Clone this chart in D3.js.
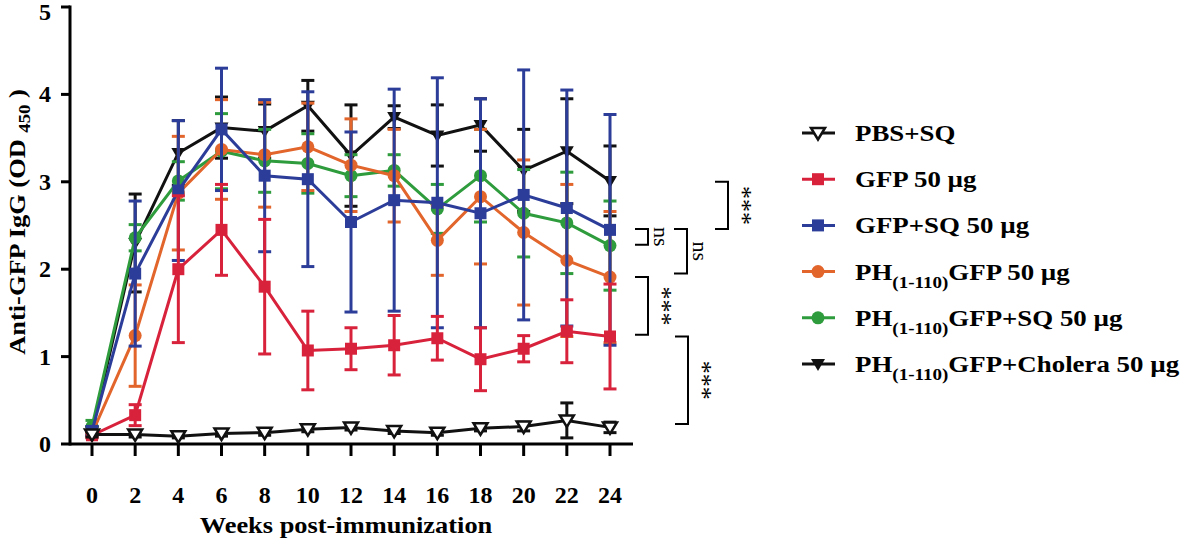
<!DOCTYPE html>
<html>
  <head>
    <meta charset="utf-8">
    <title>Anti-GFP IgG</title>
    <script src="https://d3js.org/d3.v7.min.js"></script>
    <style>
      body { margin: 0; background: #fff; }
      text { font-family: "Liberation Serif", "Times New Roman", serif; }
    </style>
  </head>
  <body>
    <div id="chart"></div>
    <script>
      // Data (mean and SD per week)
      const weeks = [0, 2, 4, 6, 8, 10, 12, 14, 16, 18, 20, 22, 24];
      const yTicks = [0, 1, 2, 3, 4, 5];

      const pbsMean = [0.11, 0.11, 0.09, 0.12, 0.13, 0.17, 0.19, 0.15, 0.13, 0.18, 0.2, 0.27, 0.19];
      const pbsSd = [0.03, 0.03, 0.02, 0.03, 0.03, 0.03, 0.03, 0.03, 0.03, 0.03, 0.05, 0.2, 0.06];

      const gfpMean = [0.1, 0.33, 2.0, 2.45, 1.8, 1.07, 1.09, 1.13, 1.21, 0.97, 1.09, 1.29, 1.23];
      const gfpSd = [0.03, 0.12, 0.84, 0.52, 0.77, 0.45, 0.24, 0.34, 0.25, 0.36, 0.15, 0.36, 0.6];

      const gfpSqMean = [0.15, 1.95, 2.9, 3.6, 3.07, 3.03, 2.54, 2.79, 2.76, 2.64, 2.85, 2.7, 2.45];
      const gfpSqSd = [0.05, 0.83, 0.8, 0.7, 0.87, 1.0, 1.03, 1.27, 1.43, 1.31, 1.43, 1.35, 1.32];

      const phGfpMean = [0.12, 1.24, 2.87, 3.37, 3.31, 3.4, 3.19, 3.07, 2.33, 2.83, 2.42, 2.1, 1.91];
      const phGfpSd = [0.04, 0.58, 0.65, 0.57, 0.6, 0.5, 0.53, 0.53, 0.4, 0.77, 0.83, 0.87, 0.75];

      const phGfpSqMean = [0.2, 2.36, 3.01, 3.35, 3.24, 3.21, 3.07, 3.13, 2.69, 3.07, 2.64, 2.53, 2.27];
      const phGfpSqSd = [0.07, 0.15, 0.22, 0.43, 0.36, 0.34, 0.24, 0.18, 0.28, 0.53, 0.5, 0.58, 0.51];

      const choleraMean = [0.15, 2.3, 3.33, 3.62, 3.58, 3.87, 3.3, 3.74, 3.53, 3.65, 3.13, 3.35, 3.01];
      const choleraSd = [0.05, 0.56, 0.37, 0.35, 0.31, 0.29, 0.58, 0.13, 0.35, 0.3, 0.47, 0.6, 0.4];

      const width = 1181;
      const height = 543;

      const svg = d3.select("#chart")
        .append("svg")
        .attr("width", width)
        .attr("height", height);

      const x = d3.scaleLinear().domain([0, 24]).range([92, 610]);
      const y = d3.scaleLinear().domain([0, 5]).range([444, 7]);

      // series, in drawing order (bottom to top)
      const series = [
        { key: "cholera", mean: choleraMean, sd: choleraSd, color: "#111111", shape: "triDownFilled" },
        { key: "phgfpsq", mean: phGfpSqMean, sd: phGfpSqSd, color: "#2e9c3c", shape: "circle" },
        { key: "phgfp", mean: phGfpMean, sd: phGfpSd, color: "#e2652c", shape: "circle" },
        { key: "gfpsq", mean: gfpSqMean, sd: gfpSqSd, color: "#2c3d99", shape: "square" },
        { key: "gfp", mean: gfpMean, sd: gfpSd, color: "#d8223c", shape: "square" },
        { key: "pbs", mean: pbsMean, sd: pbsSd, color: "#111111", shape: "triDownOpen" }
      ];

      function drawMarker(g, shape, color) {
        if (shape === "square") {
          g.append("rect").attr("x", -6).attr("y", -6).attr("width", 12).attr("height", 12)
            .attr("fill", color);
        } else if (shape === "circle") {
          g.append("circle").attr("r", 6.5).attr("fill", color);
        } else if (shape === "triDownFilled") {
          g.append("path").attr("d", "M-7,-5L7,-5L0,7Z").attr("fill", color);
        } else {
          g.append("path").attr("d", "M-7,-5L7,-5L0,6.5Z")
            .attr("fill", "#fff").attr("stroke", color).attr("stroke-width", 2.5)
            .attr("stroke-linejoin", "miter");
        }
      }

      // axes
      const axisG = svg.append("g");
      axisG.append("line")
        .attr("x1", 70).attr("x2", 70)
        .attr("y1", y(5) - 1.5).attr("y2", y(0) + 1.5)
        .attr("stroke", "#000").attr("stroke-width", 3);
      axisG.append("line")
        .attr("x1", 70).attr("x2", 633)
        .attr("y1", y(0)).attr("y2", y(0))
        .attr("stroke", "#000").attr("stroke-width", 3);

      axisG.selectAll(".ytick")
        .data(yTicks)
        .enter()
        .append("line")
        .attr("x1", 61).attr("x2", 70)
        .attr("y1", d => y(d)).attr("y2", d => y(d))
        .attr("stroke", "#000").attr("stroke-width", 3);

      axisG.selectAll(".ylab")
        .data(yTicks)
        .enter()
        .append("text")
        .attr("x", 51)
        .attr("y", d => Math.max(y(d) + 8, 20))
        .attr("text-anchor", "end")
        .attr("font-size", 24)
        .attr("font-weight", "bold")
        .text(d => d);

      axisG.selectAll(".xtick")
        .data(weeks)
        .enter()
        .append("line")
        .attr("x1", d => x(d)).attr("x2", d => x(d))
        .attr("y1", y(0)).attr("y2", y(0) + 12)
        .attr("stroke", "#000").attr("stroke-width", 3);

      axisG.selectAll(".xlab")
        .data(weeks)
        .enter()
        .append("text")
        .attr("x", d => x(d))
        .attr("y", 503)
        .attr("text-anchor", "middle")
        .attr("font-size", 24)
        .attr("font-weight", "bold")
        .text(d => d);

      svg.append("text")
        .attr("transform", "translate(346,533) scale(1.1,1)")
        .attr("text-anchor", "middle")
        .attr("font-size", 24)
        .attr("font-weight", "bold")
        .text("Weeks post-immunization");

      const yTitle = svg.append("text")
        .attr("transform", "translate(25,222) rotate(-90) scale(1.1,1)")
        .attr("text-anchor", "middle")
        .attr("font-size", 24)
        .attr("font-weight", "bold");
      yTitle.append("tspan").text("Anti-GFP IgG (OD ");
      yTitle.append("tspan").attr("font-size", 17).attr("dy", 5).text("450");
      yTitle.append("tspan").attr("dy", -5).text(" )");

      // series
      const line = d3.line()
        .x((d, i) => x(weeks[i]))
        .y(d => y(d));

      series.forEach(s => {
        const g = svg.append("g").attr("class", "series-" + s.key);

        // error bars
        weeks.forEach((w, i) => {
          const lo = s.mean[i] - s.sd[i];
          const hi = s.mean[i] + s.sd[i];
          g.append("line")
            .attr("x1", x(w)).attr("x2", x(w))
            .attr("y1", y(hi)).attr("y2", y(Math.max(lo, 0)))
            .attr("stroke", s.color).attr("stroke-width", 3);
          g.append("line")
            .attr("x1", x(w) - 6.5).attr("x2", x(w) + 6.5)
            .attr("y1", y(hi)).attr("y2", y(hi))
            .attr("stroke", s.color).attr("stroke-width", 3);
          if (lo > 0) {
            g.append("line")
              .attr("x1", x(w) - 6.5).attr("x2", x(w) + 6.5)
              .attr("y1", y(lo)).attr("y2", y(lo))
              .attr("stroke", s.color).attr("stroke-width", 3);
          }
        });

        g.append("path")
          .datum(s.mean)
          .attr("d", line)
          .attr("fill", "none")
          .attr("stroke", s.color)
          .attr("stroke-width", 3);

        weeks.forEach((w, i) => {
          const m = g.append("g").attr("transform", `translate(${x(w)},${y(s.mean[i])})`);
          drawMarker(m, s.shape, s.color);
        });
      });

      // legend
      const legendItems = [
        { label: ["PBS+SQ"], shape: "triDownOpen", color: "#111111" },
        { label: ["GFP 50 µg"], shape: "square", color: "#d8223c" },
        { label: ["GFP+SQ 50 µg"], shape: "square", color: "#2c3d99" },
        { label: ["PH", "(1-110)", "GFP 50 µg"], shape: "circle", color: "#e2652c" },
        { label: ["PH", "(1-110)", "GFP+SQ 50 µg"], shape: "circle", color: "#2e9c3c" },
        { label: ["PH", "(1-110)", "GFP+Cholera 50 µg"], shape: "triDownFilled", color: "#111111" }
      ];
      const legendY = d3.scaleLinear().domain([0, 5]).range([133, 364]);

      legendItems.forEach((item, i) => {
        const g = svg.append("g").attr("transform", `translate(0,${legendY(i)})`);
        g.append("line")
          .attr("x1", 802).attr("x2", 835)
          .attr("stroke", item.color).attr("stroke-width", 3);
        const m = g.append("g").attr("transform", "translate(818,0)");
        drawMarker(m, item.shape, item.color);
        const t = g.append("text")
          .attr("transform", "translate(855,8) scale(1.12,1)")
          .attr("font-size", 24)
          .attr("font-weight", "bold");
        if (item.label.length === 1) {
          t.text(item.label[0]);
        } else {
          t.append("tspan").text(item.label[0]);
          t.append("tspan").attr("font-size", 17).attr("dy", 8).text(item.label[1]);
          t.append("tspan").attr("dy", -8).text(item.label[2]);
        }
      });

      // significance brackets
      const brackets = [
        { top: 3.0, bottom: 2.46, xb: 728, label: "***" },
        { top: 2.46, bottom: 2.28, xb: 648, label: "ns" },
        { top: 2.46, bottom: 1.95, xb: 687, label: "ns" },
        { top: 1.91, bottom: 1.25, xb: 648, label: "***" },
        { top: 1.23, bottom: 0.23, xb: 688, label: "***" }
      ];

      brackets.forEach(b => {
        const g = svg.append("g");
        g.append("path")
          .attr("d", `M${b.xb - 13},${y(b.top)}H${b.xb}V${y(b.bottom)}H${b.xb - 13}`)
          .attr("fill", "none")
          .attr("stroke", "#000")
          .attr("stroke-width", 2);
        const cy = (y(b.top) + y(b.bottom)) / 2;
        g.append("text")
          .attr("transform", `translate(${b.xb + 6},${cy}) rotate(90)`)
          .attr("text-anchor", "middle")
          .attr("font-size", b.label === "ns" ? 22 : 26)
          .text(b.label);
      });
    </script>
  </body>
</html>
